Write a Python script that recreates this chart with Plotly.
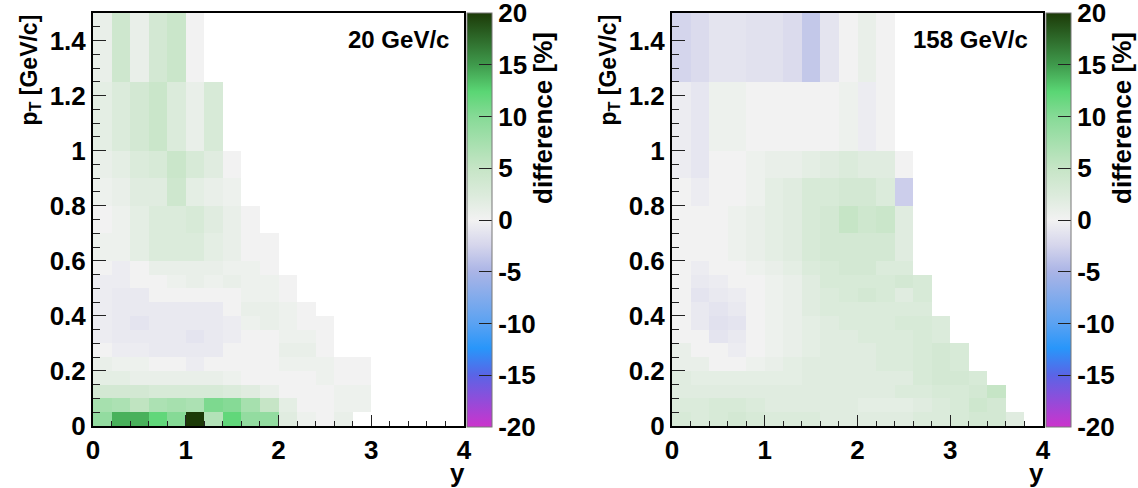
import plotly.graph_objects as go

W, H = 1138, 488

# ---- data ----
y_edges = [0.0, 0.2, 0.4, 0.6, 0.8, 1.0, 1.2, 1.4, 1.6, 1.8, 2.0, 2.2, 2.4, 2.6, 2.8, 3.0, 3.2, 3.4, 3.6, 3.8, 4.0]
pt_edges = [0.0, 0.05, 0.10, 0.15, 0.20, 0.25, 0.30, 0.35, 0.40, 0.45, 0.50, 0.55, 0.60, 0.70, 0.80, 0.90, 1.00, 1.25, 1.50]

# difference [%], rows from lowest pT bin upward, columns from y=0 upward
diff_20 = [
    [9, 14, 14, 12, 10, 20, 6.5, 12, 9, 9, 2, 0.5, 0, 1],
    [7.5, 7, 5.5, 7, 7.5, 7, 10.5, 10, 7.5, 5, 1.5, 0, 0, 0.5, 0.5],
    [3.5, 3.5, 3.5, 3, 3, 3, 3, 2.5, 2, 1, 0, 0, 0, 0.5, 0.5],
    [1.5, 1.5, 1, 1, 1, 1, 1, 0.5, 0, 0, 0, 0, 0.5, 0, 0],
    [1, 0.5, 0.5, 0, 0, -0.5, 0, 0, 0, 0, 0.5, 0.5, 0.5, 0, 0],
    [0, -0.5, -0.5, -0.8, -0.8, -0.8, -0.8, 0, 0, 0, 1, 1, 0],
    [-0.5, -0.8, -0.8, -0.8, -0.8, -1.2, -0.8, -0.5, 0, 0, 0.5, 0.5, 0],
    [-0.5, -0.8, -1.2, -0.8, -0.8, -0.8, -0.8, -0.5, 0.5, 1, 0.5, 0, 0],
    [-0.5, -0.8, -0.8, -0.8, -0.8, -0.8, -0.8, 0, 1, 1, 0.5, 0],
    [-0.5, -0.8, -0.8, 0, 0, 0, 0, 0, 0.5, 0.5, 0],
    [-0.5, -0.5, 0, 0, 0.5, 1, 0.5, 1, 0.5, 0.5, 0],
    [0, -0.5, 0, 1, 1, 1, 1, 0.5, 0.5, 0],
    [0.5, 0.5, 1.5, 2.5, 2.5, 2.5, 1.5, 1, 0, 0],
    [0, 0.5, 1.5, 2.5, 2.5, 3, 2, 1, 0],
    [0.5, 1, 2, 2, 4, 1.5, 1, 0.5],
    [1, 1.5, 2.5, 3, 4.5, 3, 2, 0],
    [1.5, 2.5, 3.5, 4.5, 2.5, 1, 3],
    [1, 4, 1, 3.5, 4.5, 0],
]

diff_158 = [
    [3, 2.5, 3, 3.5, 3, 2.5, 2.5, 2.5, 2, 2, 2, 2, 2, 2.5, 2.5, 3, 3.5, 3.5, 2],
    [2.5, 2.5, 3, 3, 2.5, 2, 2, 2, 2, 2, 1.5, 1.5, 1.5, 2, 2.5, 3, 4, 3.5],
    [2, 2, 2, 2, 2, 2, 2, 2, 2, 2, 2, 2, 2.5, 2.5, 3, 3, 3.5, 5],
    [2, 1.5, 1.5, 1.5, 1.5, 1.5, 1.5, 2, 2, 2, 2, 2, 2, 3, 3.5, 3.5, 3],
    [1, 1, 0, 0, 0.5, 1, 1.5, 2, 2, 2, 2, 2.5, 2.5, 3, 3.5, 3],
    [1, 0, 0, -0.5, 0, 0.5, 1, 1.5, 2, 2, 2, 2.5, 2.5, 3, 3.5, 3],
    [0, 0, -1.2, -0.8, 0, 0.5, 1, 1.5, 2, 2, 2.5, 2.5, 2.5, 3, 2.5],
    [0, -0.8, -1.5, -1.2, 0, 0.5, 1, 1.5, 2, 2.5, 2.5, 2.5, 3, 3, 2.5],
    [0, -0.8, -1.2, -0.8, 0, 0.5, 1, 2, 2.5, 2.5, 2.5, 2.5, 2.5, 2.5],
    [0, -1.2, -0.8, -0.5, 0, 0.5, 1, 2, 2.5, 3, 3.5, 3, 2, 3],
    [0, -0.8, -0.5, 0, 0, 0.5, 1, 2, 3, 3, 3, 3, 3.5, 3],
    [0, -0.5, 0, 0, 0.5, 1, 1.5, 2.5, 3, 3.5, 3.5, 2.5, 2.5],
    [0, 0, 0, 0.5, 1, 1.5, 2, 3, 3.5, 3.5, 3.5, 3.5, 2],
    [0, 0, 0, 0.5, 1, 1.5, 2, 3, 3.5, 5, 4, 4.5, 2],
    [0, -0.5, 0, 0, 0.5, 1.5, 2, 3, 3, 3.5, 3.5, 2.5, -3],
    [-0.5, -1, 0, 0, 0.5, 1, 1, 1.5, 2, 2.5, 2, 2, 0],
    [-0.5, -1, 0.5, 0.5, 0, 0, 0, 0, 0, 0.5, -0.5, 0],
    [-2.5, -2, -1.2, -1.2, -1.5, -1.5, -2, -3.5, -1.2, 0, 1, 0],
]

panel_labels = ["20 GeV/c", "158 GeV/c"]
x_tick_vals = [0, 1, 2, 3, 4]
x_tick_text = ["0", "1", "2", "3", "4"]
pt_tick_vals = [0, 0.2, 0.4, 0.6, 0.8, 1.0, 1.2, 1.4]
pt_tick_text = ["0", "0.2", "0.4", "0.6", "0.8", "1", "1.2", "1.4"]
z_tick_vals = [-20, -15, -10, -5, 0, 5, 10, 15, 20]
z_tick_text = ["-20", "-15", "-10", "-5", "0", "5", "10", "15", "20"]

# ---- style ----
colorscale = [
    [0.0, "#cc33cc"],
    [0.125, "#5a64e6"],
    [0.19, "#2896fa"],
    [0.25, "#5aa2f2"],
    [0.375, "#aab4e6"],
    [0.44, "#d6d6ec"],
    [0.5, "#f2f2f2"],
    [0.56, "#dcebdc"],
    [0.625, "#c6e5c6"],
    [0.75, "#86da96"],
    [0.81, "#5ad674"],
    [0.875, "#3f9a4c"],
    [1.0, "#1c3a08"],
]

FONT = "Liberation Sans, Arial, sans-serif"
FS = 26
ZLIM = 20.001


def pad(rows, n=20):
    return [r + [None] * (n - len(r)) for r in rows]


def px(xp):
    return xp / W


def py(yp):
    return 1 - yp / H


panels = [
    dict(z=diff_20, x0=93, x1=464, cb=467),
    dict(z=diff_158, x0=672, x1=1043, cb=1046),
]
top, bottom = 13, 426

fig = go.Figure()
annotations = []
for i, p in enumerate(panels):
    ax = "" if i == 0 else str(i + 1)
    fig.add_trace(go.Heatmap(
        x=y_edges, y=pt_edges, z=pad(p["z"]),
        zmin=-ZLIM, zmax=ZLIM, colorscale=colorscale,
        xaxis="x" + ax, yaxis="y" + ax, hoverongaps=False,
        colorbar=dict(
            x=px(p["cb"]), xanchor="left", xref="paper",
            y=py(bottom + 1), yanchor="bottom", yref="paper",
            len=bottom + 1 - top, lenmode="pixels",
            thickness=25, thicknessmode="pixels",
            xpad=0, ypad=0, outlinewidth=1, outlinecolor="#777777",
            tickmode="array", tickvals=z_tick_vals, ticktext=z_tick_text,
            ticks="inside", ticklen=13, tickcolor="#222222", tickwidth=1,
            ticklabeloverflow="allow",
            tickfont=dict(family=FONT, size=FS, color="black", weight="bold"),
        ),
    ))
    axis_common = dict(
        showline=True, linecolor="black", linewidth=2, mirror=True,
        showgrid=False, zeroline=False, ticks="inside", tickcolor="#222222",
        tickwidth=1,
        tickfont=dict(family=FONT, size=FS, color="black", weight="bold"),
    )
    fig.update_layout(**{
        "xaxis" + ax: dict(
            domain=[px(p["x0"]), px(p["x1"])], range=[0, 4],
            anchor="y" + ax, tickmode="array", tickvals=x_tick_vals,
            ticktext=x_tick_text, ticklen=11,
            minor=dict(ticks="inside", dtick=0.2, ticklen=5.5, tickcolor="#222222"),
            **axis_common,
        ),
        "yaxis" + ax: dict(
            domain=[py(bottom), py(top)], range=[0, 1.5],
            anchor="x" + ax, tickmode="array", tickvals=pt_tick_vals,
            ticktext=pt_tick_text, ticklen=13,
            minor=dict(ticks="inside", dtick=0.05, ticklen=7, tickcolor="#222222"),
            **axis_common,
        ),
    })
    f = dict(family=FONT, size=FS, color="black", weight="bold")
    f_lab = dict(family=FONT, size=24, color="black", weight="bold")
    f_pt = dict(family=FONT, size=23, color="black", weight="bold")
    annotations += [
        dict(text=panel_labels[i], x=px(p["x1"] - 13), xanchor="right",
             y=py(40), yanchor="middle", showarrow=False, font=f_lab),
        dict(text="y", x=px(p["x1"] - 7), xanchor="center",
             y=py(473), yanchor="middle", showarrow=False, font=f),
        dict(text="p<sub>T</sub> [GeV/c]", textangle=-90,
             x=px(p["x0"] - 63), xanchor="center",
             y=py(top), yanchor="top", showarrow=False, font=f_pt),
        dict(text="difference [%]", textangle=-90,
             x=px(p["cb"] + 76), xanchor="center",
             y=py(30), yanchor="top", showarrow=False, font=f),
    ]

for a in annotations:
    a.update(xref="paper", yref="paper")

fig.update_layout(
    width=W, height=H,
    margin=dict(l=0, r=0, t=0, b=0, pad=0, autoexpand=False),
    paper_bgcolor="white", plot_bgcolor="white",
    annotations=annotations, showlegend=False,
)

fig.write_html(
    "out.html",
    config={"displayModeBar": False},
    post_script="document.body.style.margin='0';document.body.style.overflow='hidden';",
)
